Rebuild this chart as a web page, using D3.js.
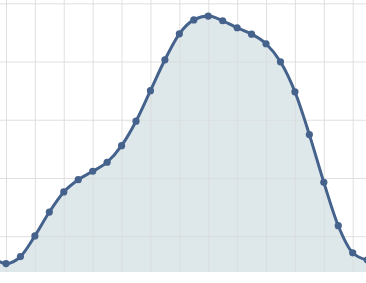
<html>
<head>
    <script src="https://cdn.jsdelivr.net/npm/d3@7"></script>
    <style>
        body { margin: 0; background: #fff; }
        svg { display: block; }
    </style>
</head>
<body>
    <svg id="chart"></svg>
<script>
    // data (one point every step, first and last partly outside the view)
    const steps = [0, 1, 2, 3, 4, 5, 6, 7, 8, 9, 10, 11, 12, 13, 14, 15, 16, 17, 18, 19, 20, 21, 22, 23, 24, 25, 26]
    const values = [12.9, 10.6, 13.0, 20.1, 28.3, 35.2, 39.4, 42.3, 45.4, 51.1, 59.5, 70.0, 80.6, 89.5, 94.3,
                    95.6, 94.0, 91.6, 89.4, 86.1, 79.9, 69.6, 54.9, 38.5, 23.6, 14.3, 11.8]
    const gridX = [1, 3, 5, 7, 9, 11, 13, 15, 17, 19, 21, 23, 25]
    const gridY = [20, 40, 60, 80, 100]

    const WIDTH = 366
    const HEIGHT = 283
    const PLOT_BOTTOM = 272
    const LINE_COLOR = "#45628c"
    const FILL_COLOR = "#dee8eb"
    const GRID_COLOR = "#dadada"

    const svg = d3.select("#chart").attr("width", WIDTH).attr("height", HEIGHT)

    const xScale = d3.scaleLinear()
        .domain([0, 26])
        .range([-8.45, 367.15])

    const yScale = d3.scaleLinear()
        .domain([7.7, 100])
        .range([PLOT_BOTTOM, 3.3])

    const data = steps.map((s, i) => ({ step: s, value: values[i] }))

    //area under the line
    const area = d3.area()
        .x(d => xScale(d.step))
        .y0(PLOT_BOTTOM)
        .y1(d => yScale(d.value))
        .curve(d3.curveMonotoneX)

    svg.append("path")
        .datum(data)
        .attr("fill", FILL_COLOR)
        .attr("d", area)

    //grid lines
    svg.append("g")
        .attr("transform", `translate(0,${PLOT_BOTTOM})`)
        .call(d3.axisBottom(xScale).tickValues(gridX).tickSize(-PLOT_BOTTOM).tickFormat(""))
        .call(g => g.select(".domain").remove())
        .call(g => g.selectAll("line").attr("stroke", GRID_COLOR).attr("stroke-opacity", 0.85))

    svg.append("g")
        .call(d3.axisLeft(yScale).tickValues(gridY).tickSize(-WIDTH).tickFormat(""))
        .call(g => g.select(".domain").remove())
        .call(g => g.selectAll("line").attr("stroke", GRID_COLOR).attr("stroke-opacity", 0.85))

    //line and dots
    const line = d3.line()
        .x(d => xScale(d.step))
        .y(d => yScale(d.value))
        .curve(d3.curveMonotoneX)

    svg.append("path")
        .datum(data)
        .attr("fill", "none")
        .attr("stroke", LINE_COLOR)
        .attr("stroke-width", 3)
        .attr("d", line)

    svg.append("g")
        .selectAll("circle")
        .data(data)
        .enter()
        .append("circle")
        .attr("cx", d => xScale(d.step))
        .attr("cy", d => yScale(d.value))
        .attr("r", 3.6)
        .attr("fill", LINE_COLOR)
</script>
</body>
</html>
